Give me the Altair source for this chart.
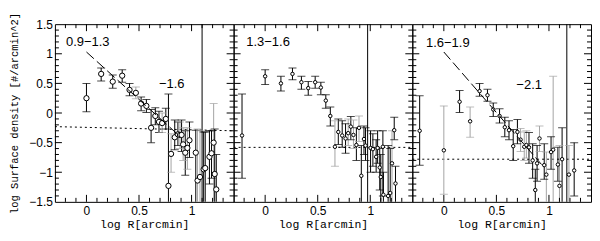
import altair as alt
import pandas as pd

# ---------------- data ----------------
# panel 1 : 0.9-1.3
p1_x  = [0.00, 0.14, 0.25, 0.34, 0.41, 0.47, 0.52, 0.57, 0.615, 0.655, 0.69, 0.72, 0.755, 0.78, 0.805, 0.84, 0.87,
         0.89, 0.905, 0.92, 0.94, 0.96, 0.98, 1.04, 1.057, 1.08, 1.115, 1.13, 1.17, 1.19, 1.21, 1.22, 1.235]
p1_y  = [0.25, 0.66, 0.53, 0.63, 0.39, 0.34, 0.16, 0.12, -0.25, -0.05, -0.15, -0.17, -0.10, -1.23, -0.69, -0.41, -0.36,
         -0.37, -0.37, -0.53, -0.67, -0.59, -0.46, -0.67, -1.14, -1.08, -0.95, -0.93, -0.74, -0.68, -0.50, -1.03, -1.29]
p1_lo = [0.02, 0.54, 0.42, 0.52, 0.29, 0.24, 0.04, 0.01, -0.50, -0.20, -0.33, -0.33, -0.27, -1.60, -1.00, -0.62, -0.55,
         -0.60, -0.65, -0.80, -1.05, -0.95, -0.75, -1.60, -1.60, -1.60, -1.60, -1.60, -1.20, -1.10, -1.60, -1.60, -1.60]
p1_hi = [0.50, 0.76, 0.64, 0.73, 0.50, 0.44, 0.27, 0.23, 0.06, 0.09, 0.03, 0.00, 0.08, 0.32, -0.35, -0.12, -0.15,
         -0.15, -0.12, -0.25, -0.30, -0.25, -0.15, -0.29, -0.27, -0.30, -0.32, -0.32, -0.30, -0.30, 0.16, -0.27, -0.70]
p1_c  = ["k", "k", "k", "k", "k", "g", "k", "k", "k", "k", "k", "g", "k", "k", "g", "k", "k",
         "g", "k", "g", "k", "g", "k", "k", "g", "g", "k", "k", "k", "k", "g", "k", "k"]

# panel 2 : 1.3-1.6
p2_x  = [-0.22, 0.00, 0.15, 0.26, 0.345, 0.41, 0.476, 0.53, 0.577, 0.62, 0.664, 0.696, 0.733, 0.765, 0.79, 0.815, 0.84, 0.868,
         0.893, 0.915, 0.94, 0.955, 1.003, 1.025, 1.056, 1.07, 1.09, 1.10, 1.12, 1.125, 1.17, 1.19, 1.207, 1.228, 1.24]
p2_y  = [-0.38, 0.62, 0.50, 0.66, 0.52, 0.42, 0.52, 0.43, 0.21, -0.05, -0.57, -0.32, -0.38, -0.43, -0.34, -0.23, -0.37, -0.54,
         -0.25, -1.06, -0.44, -0.55, -0.59, -0.61, -0.74, -0.59, -0.92, -1.08, -0.57, -1.38, -1.40, -1.35, -0.85, -0.29, -1.19]
p2_lo = [-1.10, 0.48, 0.37, 0.56, 0.40, 0.30, 0.42, 0.31, 0.08, -0.22, -0.90, -0.53, -0.58, -0.68, -0.55, -0.45, -0.60, -0.80,
         -0.48, -1.60, -0.70, -0.80, -1.00, -0.90, -1.00, -0.85, -1.30, -1.60, -1.40, -1.60, -1.60, -1.60, -1.60, -0.45, -1.60]
p2_hi = [0.32, 0.73, 0.62, 0.76, 0.62, 0.53, 0.62, 0.52, 0.31, 0.10, -0.13, -0.10, -0.13, -0.18, -0.10, -0.06, -0.12, -0.25,
         -0.05, -0.55, -0.22, -0.25, -0.30, -0.35, -0.45, -0.30, -0.60, -0.70, -0.30, -1.00, -0.55, -0.60, -0.30, -0.07, -0.90]
p2_c  = ["k", "k", "k", "k", "k", "k", "k", "k", "k", "k", "g", "k", "k", "k", "g", "k", "g", "k",
         "g", "k", "k", "k", "k", "k", "k", "k", "k", "k", "k", "k", "k", "k", "g", "k", "k"]

# panel 3 : 1.6-1.9
p3_x  = [-0.23, 0.00, 0.15, 0.25, 0.34, 0.415, 0.47, 0.53, 0.58, 0.62, 0.66, 0.70, 0.73, 0.765, 0.785, 0.81, 0.845,
         0.87, 0.887, 0.91, 0.955, 0.975, 1.02, 1.04, 1.085, 1.10, 1.125, 1.19, 1.24]
p3_y  = [-0.30, -0.63, 0.19, -0.14, 0.37, 0.30, 0.06, -0.05, -0.24, -0.29, -0.56, -0.32, -0.45, -0.57, -0.54, -0.58, -0.80,
         -1.30, -0.85, -0.43, -0.88, -1.04, -0.66, -0.62, -0.87, -1.23, -0.78, -1.04, -0.97]
p3_lo = [-0.88, -1.37, 0.01, -0.41, 0.285, 0.20, -0.06, -0.17, -0.40, -0.45, -0.80, -0.52, -0.65, -0.80, -0.76, -0.85, -1.10,
         -1.60, -1.15, -0.65, -1.12, -1.60, -0.95, -1.60, -1.15, -1.60, -1.60, -1.60, -1.40]
p3_hi = [0.29, 0.12, 0.38, 0.10, 0.50, 0.40, 0.17, 0.07, -0.07, -0.13, -0.28, -0.11, -0.26, -0.32, -0.30, -0.33, -0.52,
         -0.95, -0.55, -0.22, -0.52, -0.66, -0.40, 0.62, -0.58, -0.55, -0.25, -0.55, -0.50]
p3_c  = ["k", "g", "k", "g", "k", "k", "k", "k", "k", "k", "k", "k", "g", "g", "g", "k", "k",
         "k", "k", "g", "k", "g", "k", "g", "k", "g", "k", "g", "k"]

# fitted power-law lines (end points)
fit1_x = [0.00, 0.88]
fit1_y = [1.03, -0.38]
fit3_x = [0.00, 0.93]
fit3_y = [1.03, -0.87]

# background levels (dotted)
bg1_x = [-0.3, 1.4]
bg1_y = [-0.23, -0.30]
bg2_x = [-0.3, 1.4]
bg2_y = [-0.58, -0.58]
bg3_x = [-0.3, 1.4]
bg3_y = [-0.78, -0.78]

# vertical lines
vline1 = [1.10]
vline2 = [0.975]
vline3 = [1.17]

# in-plot annotations
lab1_x = [-0.195, 0.69]
lab1_y = [1.20, 0.49]
lab1_t = ["0.9\u22121.3", "\u22121.6"]
lab2_x = [-0.18]
lab2_y = [1.20]
lab2_t = ["1.3\u22121.6"]
lab3_x = [-0.17, 0.69]
lab3_y = [1.19, 0.47]
lab3_t = ["1.6\u22121.9", "\u22122.1"]

# axis tick positions
x_labels = [0, 0.5, 1]
y_labels = [-1.5, -1, -0.5, 0, 0.5, 1, 1.5]
x_major = [0, 0.5, 1]
x_minor = [-0.2, -0.1, 0.1, 0.2, 0.3, 0.4, 0.6, 0.7, 0.8, 0.9, 1.1, 1.2, 1.3]
y_major = [-1, -0.5, 0, 0.5, 1]
y_minor = [-1.4, -1.3, -1.2, -1.1, -0.9, -0.8, -0.7, -0.6, -0.4, -0.3, -0.2, -0.1,
           0.1, 0.2, 0.3, 0.4, 0.6, 0.7, 0.8, 0.9, 1.1, 1.2, 1.3, 1.4]

# ---------------- chart ----------------
W, H = 179, 178
MAJ, MIN = 7, 4
GRAY = "#a4a4a4"
LABEL_FONT = "Liberation Sans"
TITLE_FONT = "Liberation Mono"

xs = alt.Scale(domain=[-0.3, 1.4], nice=False, zero=False)
ys = alt.Scale(domain=[-1.5, 1.5], nice=False, zero=False)

xaxis = alt.Axis(values=x_labels, format="~g", ticks=False, domain=False, grid=False,
                 labelFont=LABEL_FONT, labelFontSize=12, labelPadding=4, labelColor="black",
                 title="log R[arcmin]", titleFont=TITLE_FONT, titleFontSize=11.5,
                 titleFontWeight="normal", titlePadding=2, titleColor="black")
yaxis_main = alt.Axis(values=y_labels, format="~g", ticks=False, domain=False, grid=False,
                      labelFont=LABEL_FONT, labelFontSize=12, labelPadding=2.5, labelColor="black",
                      title="log Surface density [#/arcmin^2]", titleFont=TITLE_FONT, titleFontSize=10.5,
                      titleFontWeight="normal", titlePadding=9.5, titleColor="black")


def tick_layers(yaxis):
    layers = []
    for vals, ln in ((y_major, MAJ), (y_minor, MIN)):
        d = pd.DataFrame({"v": vals})
        yenc = alt.Y("v:Q", scale=ys, axis=yaxis)
        layers.append(alt.Chart(d).mark_rule(color="black", strokeWidth=1).encode(
            y=yenc, x=alt.value(0), x2=alt.value(ln)))
        layers.append(alt.Chart(d).mark_rule(color="black", strokeWidth=1).encode(
            y=yenc, x=alt.value(W), x2=alt.value(W - ln)))
    for vals, ln in ((x_major, MAJ), (x_minor, MIN)):
        d = pd.DataFrame({"v": vals})
        xenc = alt.X("v:Q", scale=xs, axis=xaxis)
        layers.append(alt.Chart(d).mark_rule(color="black", strokeWidth=1).encode(
            x=xenc, y=alt.value(H), y2=alt.value(H - ln)))
        layers.append(alt.Chart(d).mark_rule(color="black", strokeWidth=1).encode(
            x=xenc, y=alt.value(0), y2=alt.value(ln)))
    return layers


def panel(px, py, plo, phi, pc, fit, bg, vl, lab, size, yaxis):
    df = pd.DataFrame({"x": px, "y": py, "lo": plo, "hi": phi, "c": pc})
    X = alt.X("x:Q", scale=xs, axis=xaxis)
    cscale = alt.Scale(domain=["k", "g"], range=["black", GRAY])
    col = alt.Color("c:N", scale=cscale, legend=None)
    base = alt.Chart(df)
    bars = base.mark_rule(strokeWidth=1, clip=True).encode(
        x=X, y=alt.Y("lo:Q", scale=ys, axis=yaxis), y2="hi:Q", color=col)
    cap_lo = base.mark_tick(orient="horizontal", size=8, thickness=1, clip=True).encode(
        x=X, y=alt.Y("lo:Q", scale=ys, axis=yaxis), color=col)
    cap_hi = base.mark_tick(orient="horizontal", size=8, thickness=1, clip=True).encode(
        x=X, y=alt.Y("hi:Q", scale=ys, axis=yaxis), color=col)
    pts = base.mark_point(shape="circle", filled=False, size=size, stroke="black", fill="white",
                          fillOpacity=1, strokeWidth=1, opacity=1, clip=True).encode(
        x=X, y=alt.Y("y:Q", scale=ys, axis=yaxis))
    bgdf = pd.DataFrame({"x": bg[0], "y": bg[1]})
    bgl = alt.Chart(bgdf).mark_line(color="black", strokeWidth=1, strokeDash=[2, 3], clip=True).encode(
        x=X, y=alt.Y("y:Q", scale=ys, axis=yaxis))
    vdf = pd.DataFrame({"x": vl})
    vline = alt.Chart(vdf).mark_rule(color="black", strokeWidth=1).encode(x=X)
    ldf = pd.DataFrame({"x": lab[0], "y": lab[1], "t": lab[2]})
    txt = alt.Chart(ldf).mark_text(align="left", baseline="middle", font=LABEL_FONT,
                                   fontSize=13, color="black").encode(
        x=X, y=alt.Y("y:Q", scale=ys, axis=yaxis), text="t:N")
    layers = [bgl, vline, bars, cap_lo, cap_hi, pts, txt]
    if fit is not None:
        fdf = pd.DataFrame({"x": fit[0], "y": fit[1]})
        layers.append(alt.Chart(fdf).mark_line(color="black", strokeWidth=1, strokeDash=[10, 4]).encode(
            x=X, y=alt.Y("y:Q", scale=ys, axis=yaxis)))
    layers += tick_layers(yaxis)
    return alt.layer(*layers).properties(width=W, height=H)


c1 = panel(p1_x, p1_y, p1_lo, p1_hi, p1_c, (fit1_x, fit1_y), (bg1_x, bg1_y), vline1,
           (lab1_x, lab1_y, lab1_t), 28, yaxis_main)
c2 = panel(p2_x, p2_y, p2_lo, p2_hi, p2_c, None, (bg2_x, bg2_y), vline2,
           (lab2_x, lab2_y, lab2_t), 12, None)
c3 = panel(p3_x, p3_y, p3_lo, p3_hi, p3_c, (fit3_x, fit3_y), (bg3_x, bg3_y), vline3,
           (lab3_x, lab3_y, lab3_t), 12, None)

chart = alt.hconcat(c1, c2, c3, spacing=0, bounds="flush").properties(
    padding={"left": 0, "top": 3, "right": 0, "bottom": 0},
    background="white",
).configure_view(stroke="black", strokeWidth=1)

chart.save("out.html", embed_options={"renderer": "svg", "actions": False})
